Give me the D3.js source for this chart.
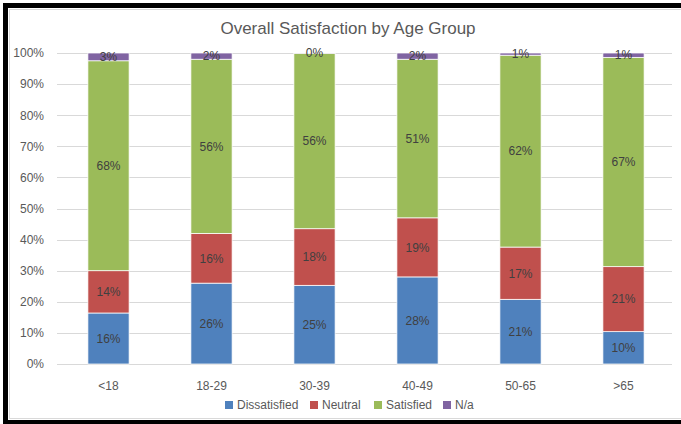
<!DOCTYPE html>
<html><head><meta charset="utf-8">
<script src="https://cdnjs.cloudflare.com/ajax/libs/d3/7.8.5/d3.min.js"></script>
<style>body{margin:0;background:#fff}svg{display:block;font-family:"Liberation Sans",Arial,sans-serif}</style>
</head><body><svg id="c" width="681" height="424"></svg>
<script>
const categories = ["<18","18-29","30-39","40-49","50-65",">65"];
const seriesNames = ["Dissatisfied","Neutral","Satisfied","N/a"];
const dissatisfied = [16.4, 26, 25.3, 28, 20.8, 10.4];
const neutral      = [13.6, 16, 18.2, 19, 16.8, 20.9];
const satisfied    = [67.5, 56, 56.4, 51, 61.7, 67.3];
const na           = [2.5, 2, 0.1, 2, 0.7, 1.4];
const yTicks = [0,10,20,30,40,50,60,70,80,90,100];
const colors = ["#4F81BD","#C0504D","#9BBB59","#8064A2"];

const svg = d3.select("#c");
// frame
svg.append("rect").attr("x",9.5).attr("y",9.5).attr("width",800).attr("height",409)
  .attr("fill","none").attr("stroke","#d9d9d9").attr("stroke-width",1);
svg.append("rect").attr("x",5.5).attr("y",5.5).attr("width",800).attr("height",417)
  .attr("fill","none").attr("stroke","#000").attr("stroke-width",5);

svg.append("text").attr("x",348).attr("y",34).attr("text-anchor","middle")
  .attr("font-size",17).attr("fill","#595959").text("Overall Satisfaction by Age Group");

const x = d3.scaleBand().domain(categories).range([57,675]).paddingInner(0.6).paddingOuter(0.3);
const y = d3.scaleLinear().domain([0,100]).range([364,53]);

// grid
svg.append("g").selectAll("line").data(yTicks).join("line")
  .attr("x1",57).attr("x2",672).attr("y1",d=>Math.round(y(d))+0.5).attr("y2",d=>Math.round(y(d))+0.5)
  .attr("stroke","#d9d9d9").attr("stroke-width",1);

const yAxis = svg.append("g").attr("transform","translate(57,0)")
  .call(d3.axisLeft(y).tickValues(yTicks).tickFormat(d=>d+"%").tickSize(0).tickPadding(13));
yAxis.select(".domain").remove();
yAxis.selectAll("text").attr("font-size",12).attr("fill","#595959").attr("font-family","Liberation Sans, Arial, sans-serif");

const xAxis = svg.append("g").attr("transform","translate(0,364)")
  .call(d3.axisBottom(x).tickSize(0).tickPadding(17));
xAxis.select(".domain").remove();
xAxis.selectAll("text").attr("font-size",12).attr("fill","#595959").attr("font-family","Liberation Sans, Arial, sans-serif");

const rows = categories.map((c,i)=>({cat:c, Dissatisfied:dissatisfied[i], Neutral:neutral[i], Satisfied:satisfied[i], "N/a":na[i]}));
const stacked = d3.stack().keys(seriesNames)(rows);

const g = svg.append("g");
stacked.forEach((s,si)=>{
  const sg = g.append("g");
  sg.selectAll("rect").data(s).join("rect")
    .attr("x",d=>x(d.data.cat)).attr("width",x.bandwidth())
    .attr("y",d=>y(d[1])).attr("height",d=>y(d[0])-y(d[1]))
    .attr("fill",colors[si]).attr("stroke","#fff").attr("stroke-width",0.75);
});
stacked.forEach((s,si)=>{
  g.append("g").selectAll("text").data(s).join("text")
    .attr("x",d=>x(d.data.cat)+x.bandwidth()/2)
    .attr("y",d=>(y(d[0])+y(d[1]))/2)
    .attr("dy","0.36em").attr("text-anchor","middle").attr("font-size",12).attr("fill","#404040")
    .text(d=>Math.round(d[1]-d[0])+"%");
});

// legend
const legX = [225,310,374,443];
const leg = svg.append("g");
seriesNames.forEach((n,i)=>{
  leg.append("rect").attr("x",legX[i]).attr("y",401).attr("width",8).attr("height",8).attr("fill",colors[i]);
  leg.append("text").attr("x",legX[i]+12).attr("y",405).attr("dy","0.36em").attr("font-size",12)
    .attr("fill","#595959").text(n);
});
</script></body></html>
